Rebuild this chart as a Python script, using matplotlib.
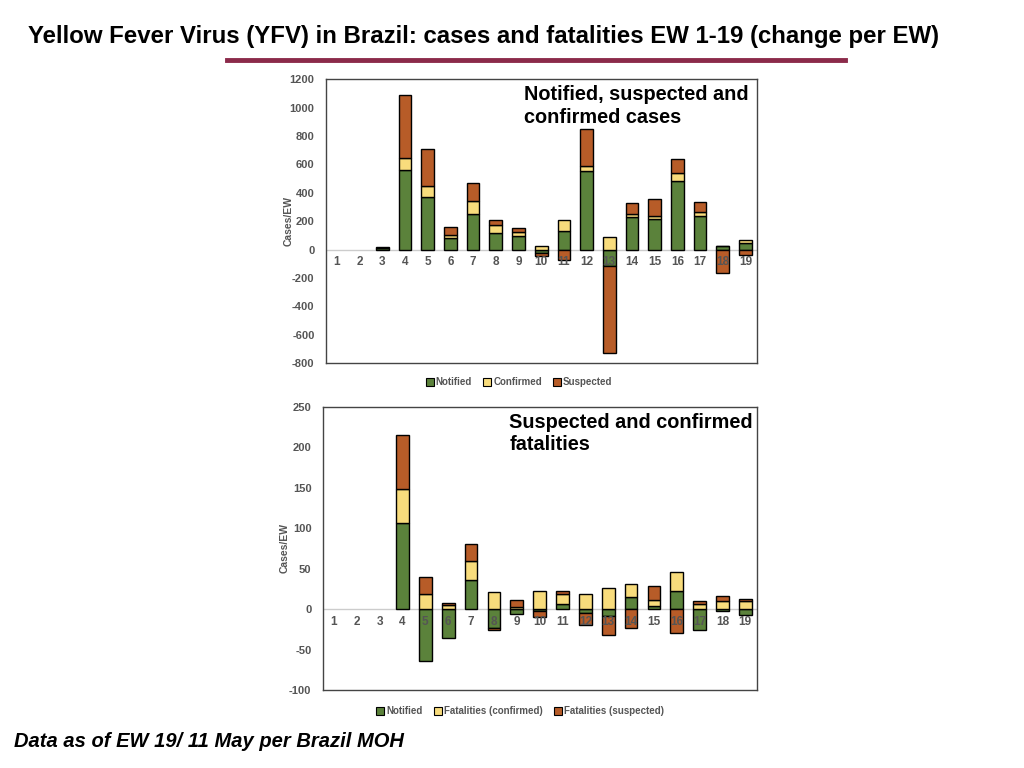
import numpy as np
import matplotlib.pyplot as plt
from matplotlib.patches import Patch

plt.rcParams['font.family'] = ['Liberation Sans', 'DejaVu Sans']
plt.rcParams['axes.unicode_minus'] = False

weeks = list(range(1, 20))

# cases, change per EW
case_notified = [0, 0, 10, 560, 369, 85, 254, 115, 94, -22, 134, 551, -115, 228, 212, 480, 238, 22, 45]
case_confirmed = [0, 0, 2, 87, 76, 21, 90, 61, 33, 28, 71, 40, 89, 26, 26, 56, 30, 5, 21]
case_suspected = [0, 0, 3, 442, 261, 52, 122, 31, 24, -20, -75, 256, -612, 71, 117, 99, 64, -162, -40]

# fatalities, change per EW
fat_notified = [0, 0, 0, 107, -64, -36, 36, -23, -6, -2, 6, -5, -8, 15, 4, 22, -26, -2, -7]
fat_confirmed = [0, 0, 0, 42, 19, 5, 24, 21, 3, 22, 13, 19, 26, 16, 7, 24, 6, 10, 10]
fat_suspected = [0, 0, 0, 66, 21, 3, 20, -3, 8, -8, 4, -15, -24, -23, 17, -29, 4, 6, 3]

GREEN = "#5b823b"
YELLOW = "#f8dc7c"
BROWN = "#b75c28"
GREY = "#555555"


def stacked(ax, series, colors, ylim, yticks, label_off):
    x = np.array(weeks)
    pos = np.zeros(len(weeks))
    neg = np.zeros(len(weeks))
    for vals, c in zip(series, colors):
        vals = np.array(vals, dtype=float)
        bottom = np.where(vals >= 0, pos, neg)
        nz = vals != 0
        ax.bar(x[nz], vals[nz], width=0.56, bottom=bottom[nz], color=c,
               edgecolor="black", linewidth=1.0, zorder=3)
        pos = pos + np.clip(vals, 0, None)
        neg = neg + np.clip(vals, None, 0)
    ax.axhline(0, color="#cccccc", linewidth=1, zorder=1)
    ax.set_xlim(0.5, 19.5)
    ax.set_ylim(*ylim)
    ax.set_yticks(yticks)
    ax.set_xticks([])
    ax.tick_params(axis="y", length=0, labelsize=8, labelcolor=GREY, pad=8)
    for lab in ax.get_yticklabels():
        lab.set_fontweight("bold")
    for w in weeks:
        ax.text(w, label_off, str(w), ha="center", va="center", fontsize=8.5,
                color=GREY, fontweight="bold", zorder=4)
    for s in ax.spines.values():
        s.set_color("#444444")
        s.set_linewidth(1.0)
    ax.set_ylabel("Cases/EW", fontsize=7.5, color=GREY, fontweight="bold")
    ax.yaxis.set_label_coords(-0.075, 0.5)


fig = plt.figure(figsize=(10.24, 7.68), dpi=100)

fig.text(0.027, 0.953, "Yellow Fever Virus (YFV) in Brazil: cases and fatalities EW 1-19 (change per EW)",
         fontsize=17.3, fontweight="bold", va="center", ha="left")
fig.add_artist(plt.Line2D([0.222, 0.825], [0.922, 0.922], color="#8b2a4a", linewidth=3.5))

ax1 = fig.add_axes([0.318, 0.527, 0.421, 0.370])
stacked(ax1, [case_notified, case_confirmed, case_suspected], [GREEN, YELLOW, BROWN],
        (-800, 1200), range(-800, 1201, 200), -85)
ax1.text(0.46, 0.98, "Notified, suspected and\nconfirmed cases", transform=ax1.transAxes,
         fontsize=14.3, fontweight="bold", va="top", ha="left", linespacing=1.25)

ax2 = fig.add_axes([0.315, 0.1016, 0.424, 0.3685])
stacked(ax2, [fat_notified, fat_confirmed, fat_suspected], [GREEN, YELLOW, BROWN],
        (-100, 250), range(-100, 251, 50), -16)
ax2.text(0.43, 0.98, "Suspected and confirmed\nfatalities", transform=ax2.transAxes,
         fontsize=14.3, fontweight="bold", va="top", ha="left", linespacing=1.25)

leg_kw = dict(loc="center", ncol=3, frameon=False, handlelength=0.8, handleheight=0.8,
              handletextpad=0.2, columnspacing=1.2, prop={"size": 7, "weight": "bold"},
              labelcolor=GREY)
h1 = [Patch(facecolor=c, edgecolor="black", linewidth=0.8) for c in (GREEN, YELLOW, BROWN)]
fig.legend(h1, ["Notified", "Confirmed", "Suspected"], bbox_to_anchor=(0.507, 0.502), **leg_kw)
fig.legend(h1, ["Notified", "Fatalities (confirmed)", "Fatalities (suspected)"],
           bbox_to_anchor=(0.508, 0.074), **leg_kw)

fig.text(0.014, 0.035, "Data as of EW 19/ 11 May per Brazil MOH", fontsize=14.5,
         fontweight="bold", fontstyle="italic", va="center", ha="left")

fig.savefig("out.png", dpi=100)
